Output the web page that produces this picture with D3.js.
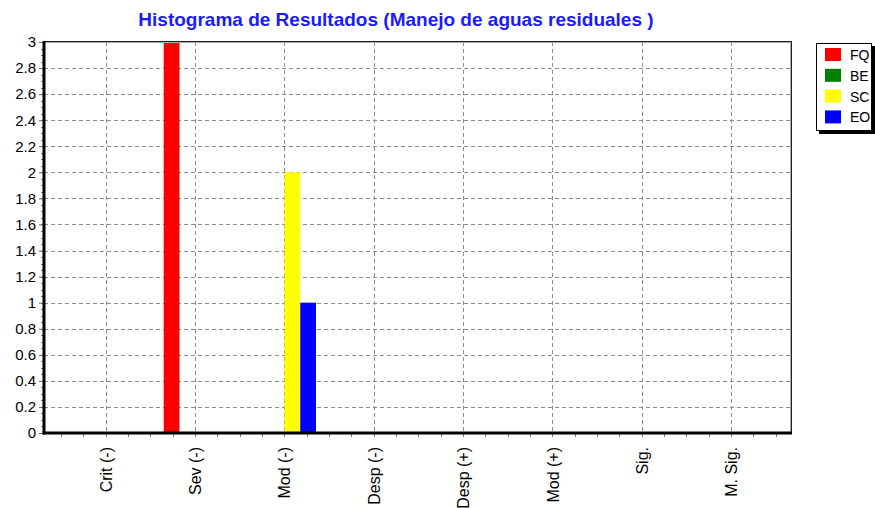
<!DOCTYPE html>
<html>
<head>
<meta charset="utf-8">
<script src="https://cdn.jsdelivr.net/npm/d3@7"></script>
<style>
  body { margin: 0; background: #fff; }
  text { font-family: Arial, "Liberation Sans", sans-serif; }
</style>
</head>
<body>
<div id="chart"></div>
<script>
// categories along the x axis
var categories = ["Crit (-)", "Sev (-)", "Mod (-)", "Desp (-)", "Desp (+)", "Mod (+)", "Sig.", "M. Sig."];
// series, one value per category
var seriesNames = ["FQ", "BE", "SC", "EO"];
var seriesColors = ["#ff0000", "#008000", "#ffff00", "#0000ff"];
var fqValues = [0, 3, 0, 0, 0, 0, 0, 0];
var beValues = [0, 0, 0, 0, 0, 0, 0, 0];
var scValues = [0, 0, 2, 0, 0, 0, 0, 0];
var eoValues = [0, 0, 1, 0, 0, 0, 0, 0];
var yTicks = [0, 0.2, 0.4, 0.6, 0.8, 1, 1.2, 1.4, 1.6, 1.8, 2, 2.2, 2.4, 2.6, 2.8, 3];

var titleText = "Histograma de Resultados (Manejo de aguas residuales )";

var W = 875, H = 508;
var plot = {left: 44, right: 791, top: 42, bottom: 433};

var svg = d3.select("#chart").append("svg")
    .attr("width", W).attr("height", H);

var x = d3.scaleLinear().domain([-0.69, 7.67]).range([plot.left, plot.right]);
var y = d3.scaleLinear().domain([0, 3]).range([plot.bottom, plot.top]);

// title
svg.append("text")
    .attr("x", 396).attr("y", 26)
    .attr("text-anchor", "middle")
    .style("font-size", "19px").style("font-weight", "bold")
    .attr("fill", "#1a1aff")
    .text(titleText);

// grid lines
var grid = svg.append("g").attr("stroke", "#8c8c8c").attr("stroke-dasharray", "4,3").attr("stroke-width", 1);
grid.selectAll("line.h").data(yTicks.filter(function(d) { return d > 0 && d < 3; }))
    .enter().append("line").attr("class", "h")
    .attr("x1", plot.left).attr("x2", plot.right)
    .attr("y1", function(d) { return Math.round(y(d)) + 0.5; })
    .attr("y2", function(d) { return Math.round(y(d)) + 0.5; });
grid.selectAll("line.v").data(d3.range(categories.length))
    .enter().append("line").attr("class", "v")
    .attr("y1", plot.top).attr("y2", plot.bottom + 4)
    .attr("x1", function(d) { return Math.round(x(d)) + 0.5; })
    .attr("x2", function(d) { return Math.round(x(d)) + 0.5; });

// bars
var allSeries = [fqValues, beValues, scValues, eoValues];
var barW = 0.176, groupStart = -0.35;
allSeries.forEach(function(vals, si) {
    var pts = vals.map(function(v, i) { return {i: i, v: v}; })
        .filter(function(d) { return d.v > 0; });
    svg.append("g").selectAll("rect").data(pts).enter()
        .append("rect")
        .attr("x", function(d) { return x(d.i + groupStart + si * barW); })
        .attr("width", x(barW) - x(0))
        .attr("y", function(d) { return y(d.v); })
        .attr("height", function(d) { return y(0) - y(d.v); })
        .attr("fill", seriesColors[si]);
});

// frame top / right
svg.append("line").attr("x1", plot.left).attr("x2", plot.right + 1)
    .attr("y1", plot.top - 0.5).attr("y2", plot.top - 0.5).attr("stroke", "#222");
svg.append("line").attr("x1", plot.left).attr("x2", plot.right)
    .attr("y1", plot.top + 0.5).attr("y2", plot.top + 0.5).attr("stroke", "#aaa");
svg.append("line").attr("x1", plot.right + 0.5).attr("x2", plot.right + 0.5)
    .attr("y1", plot.top - 1).attr("y2", plot.bottom).attr("stroke", "#222");
svg.append("line").attr("x1", plot.right - 0.5).attr("x2", plot.right - 0.5)
    .attr("y1", plot.top).attr("y2", plot.bottom).attr("stroke", "#aaa");

// y axis
var yAxis = d3.axisLeft(y).tickValues(yTicks).tickSize(4).tickPadding(3)
    .tickFormat(function(d) { return d3.format("~g")(d); });
var gy = svg.append("g").attr("transform", "translate(" + (plot.left - 1) + ",0)").call(yAxis);
gy.select(".domain").remove();
gy.selectAll("text").style("font-size", "15px").attr("fill", "#000");
gy.selectAll("line").attr("stroke", "#666");
var yMinor = d3.range(0, 3.001, 0.05);
svg.append("g").selectAll("line").data(yMinor).enter().append("line")
    .attr("x1", plot.left - 3).attr("x2", plot.left)
    .attr("y1", function(d) { return Math.round(y(d)) + 0.5; })
    .attr("y2", function(d) { return Math.round(y(d)) + 0.5; })
    .attr("stroke", "#777");

// x axis
var xAxis = d3.axisBottom(x).tickValues(d3.range(categories.length)).tickSize(0).tickPadding(14)
    .tickFormat(function(d) { return categories[d]; });
var gx = svg.append("g").attr("transform", "translate(0," + plot.bottom + ")").call(xAxis);
gx.select(".domain").remove();
gx.selectAll("text")
    .style("font-size", "16px").attr("fill", "#000")
    .attr("text-anchor", "end")
    .attr("transform", "rotate(-90)")
    .attr("x", -14).attr("y", 0).attr("dy", "0.35em");
var xMinor = d3.range(-0.5, 7.6, 0.25);
svg.append("g").selectAll("line").data(xMinor).enter().append("line")
    .attr("x1", function(d) { return Math.round(x(d)) + 0.5; })
    .attr("x2", function(d) { return Math.round(x(d)) + 0.5; })
    .attr("y1", plot.bottom).attr("y2", plot.bottom + 4)
    .attr("stroke", "#777");

// thick axis lines
svg.append("line").attr("x1", plot.left).attr("x2", plot.left)
    .attr("y1", plot.top - 1).attr("y2", plot.bottom + 1.5)
    .attr("stroke", "#000").attr("stroke-width", 3);
svg.append("line").attr("x1", plot.left - 1.5).attr("x2", plot.right + 1)
    .attr("y1", plot.bottom).attr("y2", plot.bottom)
    .attr("stroke", "#000").attr("stroke-width", 3);

// legend
var lg = svg.append("g").attr("transform", "translate(816,43)");
lg.append("rect").attr("x", 3).attr("y", 3).attr("width", 56).attr("height", 88).attr("fill", "#000");
lg.append("rect").attr("x", 0.5).attr("y", 0.5).attr("width", 55).attr("height", 87)
    .attr("fill", "#fff").attr("stroke", "#000");
var rows = lg.selectAll("g.row").data(seriesNames).enter().append("g")
    .attr("transform", function(d, i) { return "translate(9," + (5 + i * 20.8) + ")"; });
rows.append("rect").attr("width", 16).attr("height", 13)
    .attr("fill", function(d, i) { return seriesColors[i]; });
rows.append("text").attr("x", 25).attr("y", 7).attr("dy", "0.36em")
    .style("font-size", "14px").text(function(d) { return d; });
</script>
</body>
</html>
